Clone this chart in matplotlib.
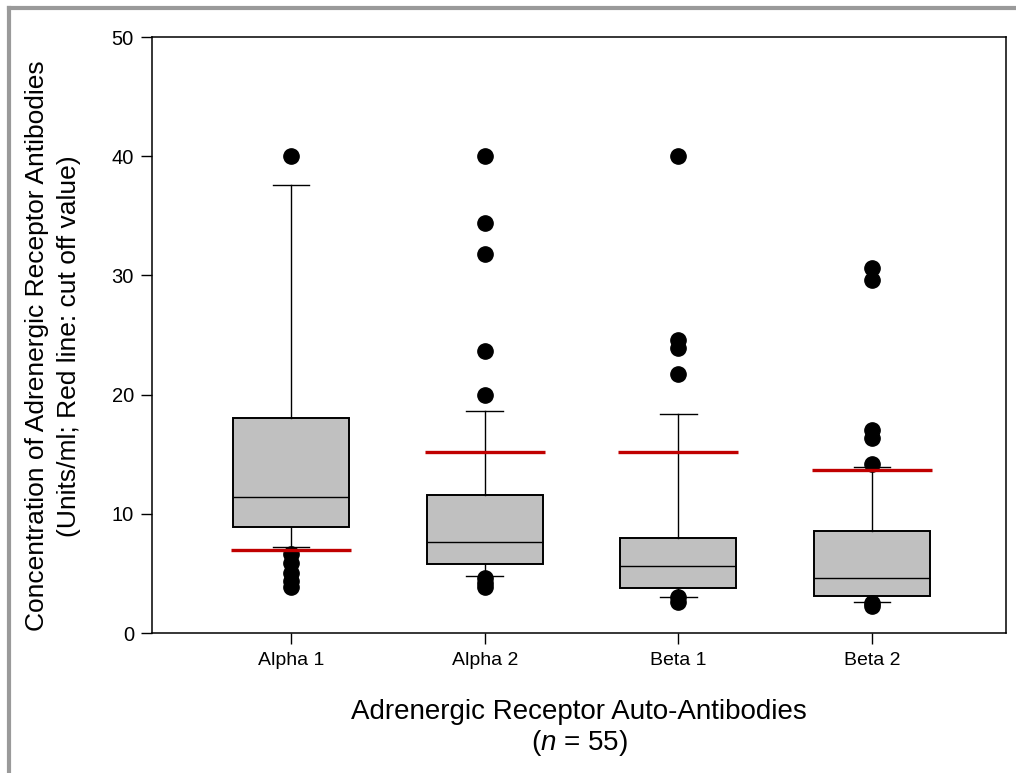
import matplotlib
matplotlib.use("Agg")
import matplotlib.pyplot as plt
from matplotlib.lines import Line2D

plt.rcParams['font.family'] = ['Liberation Sans', 'DejaVu Sans']
plt.rcParams['mathtext.fontset'] = 'custom'
plt.rcParams['mathtext.rm'] = 'Liberation Sans'
plt.rcParams['mathtext.it'] = 'Liberation Sans:italic'

# box statistics
groups = ["Alpha 1", "Alpha 2", "Beta 1", "Beta 2"]
q1 = [8.9, 5.8, 3.8, 3.1]
medians = [11.4, 7.6, 5.6, 4.6]
q3 = [18.0, 11.6, 8.0, 8.6]
whisk_lo = [7.2, 4.8, 3.0, 2.6]
whisk_hi = [37.6, 18.6, 18.4, 13.9]
outliers = [
    [40.0, 6.6, 5.9, 5.0, 4.4, 3.9],
    [40.0, 34.4, 31.8, 23.7, 20.0, 4.6, 4.2, 3.9],
    [40.0, 24.6, 23.9, 21.7, 3.0, 2.6],
    [30.6, 29.6, 17.0, 16.4, 14.2, 2.5, 2.3],
]
cutoffs = [7.0, 15.2, 15.2, 13.7]

fig = plt.figure(figsize=(10.16, 7.73), dpi=100)
ax = fig.add_axes([0.1496, 0.1811, 0.9902 - 0.1496, 0.9521 - 0.1811])

stats = []
for i in range(len(groups)):
    stats.append(dict(med=medians[i], q1=q1[i], q3=q3[i],
                      whislo=whisk_lo[i], whishi=whisk_hi[i],
                      fliers=outliers[i], label=groups[i]))

pos = list(range(1, len(groups) + 1))
ax.bxp(stats, positions=pos, widths=0.6, patch_artist=True,
       showfliers=True, capwidths=0.19,
       boxprops=dict(facecolor="#c0c0c0", edgecolor="black", linewidth=1.4),
       medianprops=dict(color="black", linewidth=1.0),
       whiskerprops=dict(color="black", linewidth=1.0),
       capprops=dict(color="black", linewidth=1.0),
       flierprops=dict(marker="o", markerfacecolor="black", markeredgecolor="black",
                       markersize=11))

# cut-off values (red lines)
for p, c in zip(pos, cutoffs):
    ax.hlines(c, p - 0.31, p + 0.31, color="#c00000", linewidth=2.4, zorder=4)

ax.set_xlim(0.282, 4.692)
ax.set_ylim(0, 50)
ax.set_yticks([0, 10, 20, 30, 40, 50])
ax.set_xticks(pos)
ax.set_xticklabels(groups)
ax.tick_params(axis="both", direction="out", length=8, width=1.0)
ax.tick_params(axis="y", labelsize=14.5, pad=5)
ax.tick_params(axis="x", labelsize=14, pad=6)
for s in ax.spines.values():
    s.set_linewidth(1.1)

ax.set_ylabel("Concentration of Adrenergic Receptor Antibodies\n(Units/ml; Red line: cut off value)",
              fontsize=19, labelpad=22, linespacing=1.4, y=0.482)
ax.set_xlabel("Adrenergic Receptor Auto-Antibodies\n($n$ = 55)",
              fontsize=20, labelpad=21, linespacing=1.15)

# grey frame on top and left edges
fig.add_artist(Line2D([8.5 / 1016, 1.0], [1 - 8 / 773, 1 - 8 / 773],
                      transform=fig.transFigure, color="#9a9a9a", linewidth=3))
fig.add_artist(Line2D([9 / 1016, 9 / 1016], [0.0, 1 - 8 / 773],
                      transform=fig.transFigure, color="#9a9a9a", linewidth=3))

fig.savefig("out.png", dpi=100)
